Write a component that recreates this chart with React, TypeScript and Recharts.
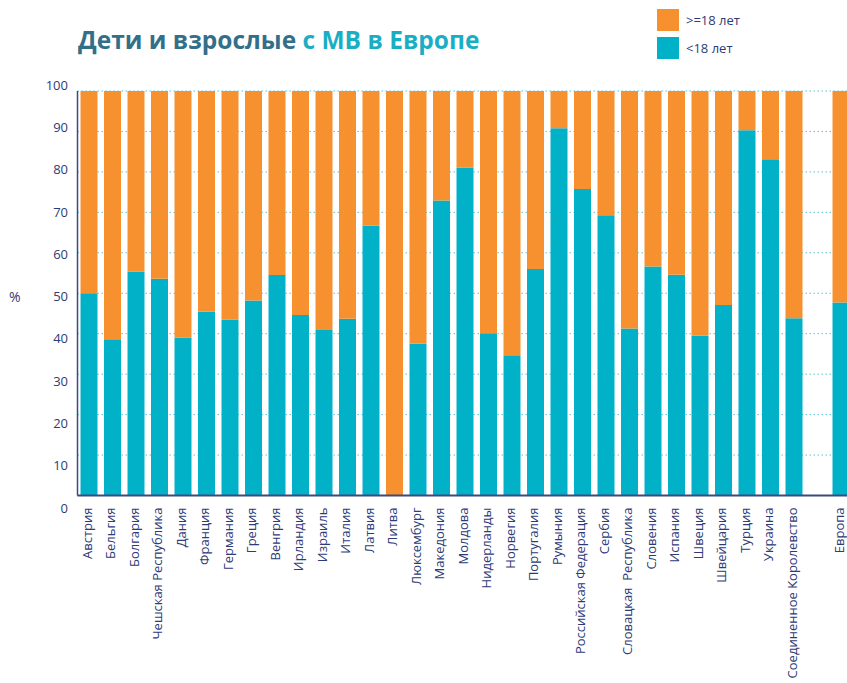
import { BarChart, Bar, XAxis, YAxis, CartesianGrid } from "recharts";

const COUNTRIES = [
  "Австрия",
  "Бельгия",
  "Болгария",
  "Чешская Республика",
  "Дания",
  "Франция",
  "Германия",
  "Греция",
  "Венгрия",
  "Ирландия",
  "Израиль",
  "Италия",
  "Латвия",
  "Литва",
  "Люксембург",
  "Македония",
  "Молдова",
  "Нидерланды",
  "Норвегия",
  "Португалия",
  "Румыния",
  "Российская Федерация",
  "Сербия",
  "Словацкая  Республика",
  "Словения",
  "Испания",
  "Швеция",
  "Швейцария",
  "Турция",
  "Украина",
  "Соединенное Королевство",
  " ",
  "Европа",
];

// доля пациентов <18 лет, %
const UNDER_18 = [
  50, 38.6, 55.4, 53.6, 39, 45.4, 43.5, 48.2, 54.5, 44.6, 40.9, 43.7, 66.7, 0,
  37.5, 72.9, 81.1, 40.1, 34.7, 56, 90.8, 75.8, 69.3, 41.3, 56.6, 54.6, 39.5,
  47.1, 90.3, 83.1, 43.8, null, 47.7,
];

// доля пациентов >=18 лет, %
const OVER_18 = [
  50, 61.4, 44.6, 46.4, 61, 54.6, 56.5, 51.8, 45.5, 55.4, 59.1, 56.3, 33.3, 100,
  62.5, 27.1, 18.9, 59.9, 65.3, 44, 9.2, 24.2, 30.7, 58.7, 43.4, 45.4, 60.5,
  52.9, 9.7, 16.9, 56.2, null, 52.3,
];

const Y_TICKS = [0, 10, 20, 30, 40, 50, 60, 70, 80, 90, 100];

const ORANGE = "#f7902f";
const TEAL = "#00b1c7";
const NAVY = "#2d3b78";
const FONT = "'Open Sans', sans-serif";

const data = COUNTRIES.map((name, i) => ({
  name,
  under: UNDER_18[i],
  over: OVER_18[i],
}));

function YTick(props: any) {
  const { x, y, payload } = props;
  // подписи в оригинале растянуты чуть сильнее, чем сетка
  const shift = (100 - payload.value) * 0.187 - 6;
  return (
    <text
      x={x}
      y={y + shift}
      dy="0.35em"
      textAnchor="end"
      fill={NAVY}
      fontSize={13}
      fontFamily={FONT}
    >
      {payload.value}
    </text>
  );
}

function XTick(props: any) {
  const { x, y, payload } = props;
  return (
    <text
      transform={`translate(${x - 2},${y}) rotate(-90)`}
      dy="0.35em"
      textAnchor="end"
      fill={NAVY}
      fontSize={13}
      fontFamily={FONT}
      style={{ whiteSpace: "pre" }}
    >
      {payload.value}
    </text>
  );
}

export default function App() {
  return (
    <div
      style={{
        position: "fixed",
        left: 0,
        top: 0,
        width: 847,
        height: 683,
        overflow: "hidden",
        background: "#fff",
        fontFamily: FONT,
      }}
    >
      <div
        style={{
          position: "absolute",
          left: 78,
          top: 23,
          fontSize: 24.5,
          fontWeight: 700,
          color: "#336f89",
          whiteSpace: "nowrap",
        }}
      >
        Дети и взрослые <span style={{ color: "#1aaec5" }}>с МВ в Европе</span>
      </div>

      <div style={{ position: "absolute", left: 657, top: 9, fontSize: 13, color: NAVY }}>
        <div style={{ display: "flex", alignItems: "center", height: 22, marginBottom: 6 }}>
          <span style={{ width: 22, height: 22, background: ORANGE, marginRight: 7 }} />
          &gt;=18 лет
        </div>
        <div style={{ display: "flex", alignItems: "center", height: 22 }}>
          <span style={{ width: 22, height: 22, background: TEAL, marginRight: 7 }} />
          &lt;18 лет
        </div>
      </div>

      <div
        style={{
          position: "absolute",
          left: 9,
          top: 287,
          fontSize: 14,
          color: NAVY,
        }}
      >
        %
      </div>

      <div style={{ position: "absolute", left: 0, top: 0 }}>
        <BarChart
          width={900}
          height={683}
          data={data}
          barSize={17}
          margin={{ top: 91, right: 47, left: 0, bottom: 0 }}
        >
          <CartesianGrid
            vertical={false}
            stroke="#5fc2d1"
            strokeDasharray="1.5 2.5"
            strokeWidth={1}
          />
          <XAxis
            dataKey="name"
            interval={0}
            height={187.5}
            tickSize={0}
            tickMargin={12}
            tick={<XTick />}
            axisLine={{ stroke: "#3a4a82", strokeWidth: 2 }}
          />
          <YAxis
            domain={[0, 100]}
            ticks={Y_TICKS}
            width={77.5}
            tickSize={0}
            tickMargin={9.5}
            tick={<YTick />}
            axisLine={{ stroke: "#3a4a82", strokeWidth: 1.5 }}
          />
          <Bar dataKey="under" stackId="a" fill={TEAL} isAnimationActive={false} />
          <Bar dataKey="over" stackId="a" fill={ORANGE} isAnimationActive={false} />
        </BarChart>
      </div>
    </div>
  );
}
